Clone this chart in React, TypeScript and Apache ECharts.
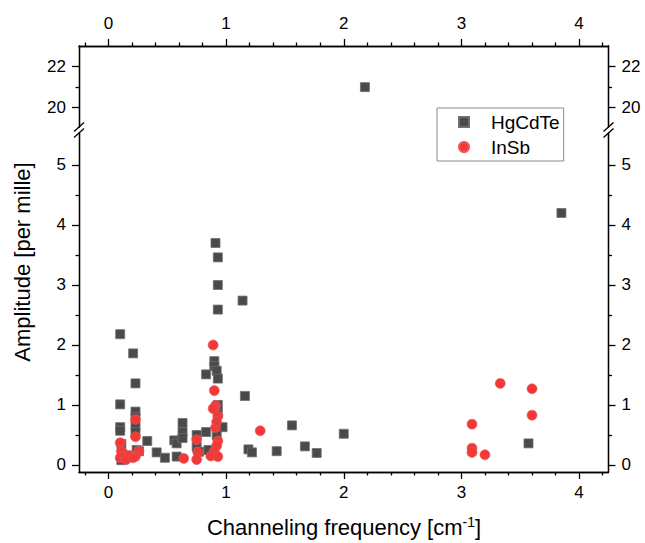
import React, { useEffect, useRef } from "react";
import * as echarts from "echarts";

// HgCdTe data (x: channeling frequency, y: amplitude)
const hgX = [0.10, 0.10, 0.10, 0.10, 0.11, 0.11, 0.12, 0.21, 0.23, 0.23, 0.23, 0.23, 0.23, 0.24, 0.22, 0.26,
  0.33, 0.41, 0.48, 0.56, 0.58, 0.58, 0.63, 0.63, 0.63, 0.75, 0.75, 0.77, 0.83, 0.83, 0.85,
  0.90, 0.90, 0.92, 0.93, 0.93, 0.93, 0.93, 0.91, 0.93, 0.93, 0.97, 0.92,
  1.14, 1.16, 1.19, 1.22, 1.43, 1.56, 1.67, 1.77, 2.00, 2.18, 3.57, 3.85];
const hgY = [2.18, 1.01, 0.63, 0.57, 0.35, 0.08, 0.18, 1.86, 1.36, 0.89, 0.80, 0.65, 0.55, 0.25, 0.15, 0.23,
  0.40, 0.21, 0.12, 0.41, 0.36, 0.14, 0.70, 0.55, 0.45, 0.50, 0.30, 0.22, 1.51, 0.55, 0.25,
  1.73, 1.65, 1.57, 1.44, 2.59, 3.00, 3.46, 3.70, 1.00, 0.85, 0.63, 0.50,
  2.74, 1.15, 0.26, 0.21, 0.23, 0.66, 0.31, 0.20, 0.52, 21.0, 0.36, 4.20];

// InSb data
const inX = [0.10, 0.11, 0.10, 0.14, 0.18, 0.15, 0.23, 0.23, 0.26, 0.23, 0.21,
  0.64, 0.75, 0.76, 0.75,
  0.89, 0.90, 0.91, 0.89, 0.93, 0.91, 0.93, 0.92, 0.90, 0.87, 0.93, 0.92,
  1.29, 3.09, 3.09, 3.09, 3.20, 3.33, 3.60, 3.60];
const inY = [0.37, 0.23, 0.12, 0.15, 0.16, 0.09, 0.76, 0.47, 0.23, 0.15, 0.12,
  0.11, 0.42, 0.21, 0.09,
  2.00, 1.24, 0.99, 0.94, 0.82, 0.62, 0.40, 0.32, 0.23, 0.15, 0.14, 0.72,
  0.57, 0.68, 0.28, 0.21, 0.17, 1.36, 1.27, 0.83];

// Tick labels / tick positions
const xTicks = [0, 1, 2, 3, 4];
const xMinorTicks = [-0.2, 0.2, 0.4, 0.6, 0.8, 1.2, 1.4, 1.6, 1.8, 2.2, 2.4, 2.6, 2.8, 3.2, 3.4, 3.6, 3.8, 4.2];
const yLowTicks = [0, 1, 2, 3, 4, 5];
const yLowMinor = [0.5, 1.5, 2.5, 3.5, 4.5];
const yHighTicks = [20, 22];
const yHighMinor = [21];

// Axis ranges (broken y axis)
const X_MIN = -0.25, X_MAX = 4.25;
const LOW_MIN = -0.117, LOW_MAX = 5.533;
const HIGH_MIN = 19.06, HIGH_MAX = 23;
const BREAK_AT = 10;

const FONT = "'Liberation Sans', Arial, sans-serif";
const AX_COLOR = "#000";
const TICK_FONT = 17;

function xAxisDef(grid: number, pos: string, ticks: number[], len: number, labels: number[] | null, margin: number) {
  return {
    type: "value", gridIndex: grid, position: pos, min: X_MIN, max: X_MAX,
    axisLine: { show: true, onZero: false, lineStyle: { color: AX_COLOR, width: 1.3 } },
    axisTick: { show: true, inside: false, length: len, customValues: ticks, lineStyle: { color: AX_COLOR, width: 1.3 } },
    axisLabel: labels
      ? { show: true, customValues: labels, margin, fontSize: TICK_FONT, color: "#000", fontFamily: FONT }
      : { show: false },
    splitLine: { show: false },
  };
}

function yAxisDef(grid: number, pos: string, min: number, max: number, ticks: number[], len: number, labels: number[] | null) {
  return {
    type: "value", gridIndex: grid, position: pos, min, max,
    axisLine: { show: true, onZero: false, lineStyle: { color: AX_COLOR, width: 1.3 } },
    axisTick: { show: true, inside: false, length: len, customValues: ticks, lineStyle: { color: AX_COLOR, width: 1.3 } },
    axisLabel: labels
      ? { show: true, customValues: labels, margin: 13, fontSize: TICK_FONT, color: "#000", fontFamily: FONT }
      : { show: false },
    splitLine: { show: false },
  };
}

const hgLow: number[][] = [];
const hgHigh: number[][] = [];
hgX.forEach((x, i) => (hgY[i] > BREAK_AT ? hgHigh : hgLow).push([x, hgY[i]]));
const inLow: number[][] = inX.map((x, i) => [x, inY[i]]);

const GRID_LEFT = 79;
const GRID_RIGHT = 36.5;
const AXIS_R = 645 - GRID_RIGHT;

function slash(x: number, yc: number) {
  return {
    type: "line",
    shape: { x1: x - 5, y1: yc + 4.5, x2: x + 5, y2: yc - 4.5 },
    style: { stroke: "#000", lineWidth: 1.3 },
    z: 100,
  };
}

export default function App() {
  const ref = useRef<HTMLDivElement>(null);
  useEffect(() => {
    if (!ref.current) return;
    const chart = echarts.init(ref.current, null, { renderer: "svg" });
    const hgStyle = { color: "#4a4a4a", borderColor: "#6e6e6e", borderWidth: 0.8, opacity: 1 };
    const inStyle = { color: "#f03a3a", borderColor: "#f25555", borderWidth: 0.6, opacity: 1 };
    chart.setOption({
      animation: false,
      backgroundColor: "#fff",
      grid: [
        { left: GRID_LEFT, right: GRID_RIGHT, top: 46, height: 81 },
        { left: GRID_LEFT, right: GRID_RIGHT, top: 133, bottom: 543 - 472 },
      ],
      xAxis: [
        xAxisDef(0, "top", xTicks, 7, xTicks, 14),
        xAxisDef(0, "top", xMinorTicks, 3.5, null, 0),
        xAxisDef(1, "bottom", xTicks, 7, xTicks, 12),
        xAxisDef(1, "bottom", xMinorTicks, 3.5, null, 0),
      ],
      yAxis: [
        yAxisDef(0, "left", HIGH_MIN, HIGH_MAX, yHighTicks, 7, yHighTicks),
        yAxisDef(0, "left", HIGH_MIN, HIGH_MAX, yHighMinor, 3.5, null),
        yAxisDef(0, "right", HIGH_MIN, HIGH_MAX, yHighTicks, 7, yHighTicks),
        yAxisDef(0, "right", HIGH_MIN, HIGH_MAX, yHighMinor, 3.5, null),
        yAxisDef(1, "left", LOW_MIN, LOW_MAX, yLowTicks, 7, yLowTicks),
        yAxisDef(1, "left", LOW_MIN, LOW_MAX, yLowMinor, 3.5, null),
        yAxisDef(1, "right", LOW_MIN, LOW_MAX, yLowTicks, 7, yLowTicks),
        yAxisDef(1, "right", LOW_MIN, LOW_MAX, yLowMinor, 3.5, null),
      ],
      legend: {
        orient: "vertical",
        left: 437,
        top: 108,
        data: [
          { name: "HgCdTe", icon: "rect" },
          { name: "InSb", icon: "circle" },
        ],
        itemWidth: 10,
        itemHeight: 10,
        itemGap: 5,
        padding: [4, 4, 4, 21],
        borderColor: "#8a8a8a",
        borderWidth: 1,
        textStyle: { fontSize: 19, fontFamily: FONT, color: "#000", padding: [0, 0, 0, 17], lineHeight: 20 },
      },
      series: [
        {
          name: "HgCdTe", type: "scatter", xAxisIndex: 2, yAxisIndex: 4,
          symbol: "rect", symbolSize: 9, itemStyle: hgStyle, data: hgLow, z: 2,
        },
        {
          name: "HgCdTe", type: "scatter", xAxisIndex: 0, yAxisIndex: 0,
          symbol: "rect", symbolSize: 9, itemStyle: hgStyle, data: hgHigh, z: 2,
        },
        {
          name: "InSb", type: "scatter", xAxisIndex: 2, yAxisIndex: 4,
          symbol: "circle", symbolSize: 10, itemStyle: inStyle, data: inLow, z: 3,
        },
      ],
      graphic: [
        slash(GRID_LEFT, 127),
        slash(GRID_LEFT, 133),
        slash(AXIS_R, 127),
        slash(AXIS_R, 133),
        {
          type: "text",
          x: 22,
          y: 262,
          rotation: Math.PI / 2,
          style: {
            text: "Amplitude [per mille]",
            font: `22px ${FONT}`,
            fill: "#000",
            align: "center",
            verticalAlign: "middle",
          },
        },
        {
          type: "text",
          x: 344,
          y: 527,
          style: {
            text: "Channeling frequency [cm{sup|-1}]",
            font: `22px ${FONT}`,
            fill: "#000",
            align: "center",
            verticalAlign: "middle",
            rich: {
              sup: { fontSize: 14, fontFamily: FONT, fill: "#000", padding: [0, 0, 10, 0] },
            },
          },
        },
      ],
    });
    return () => chart.dispose();
  }, []);
  return (
    <div
      ref={ref}
      style={{ position: "absolute", left: 0, top: 0, width: 645, height: 543 }}
    />
  );
}
